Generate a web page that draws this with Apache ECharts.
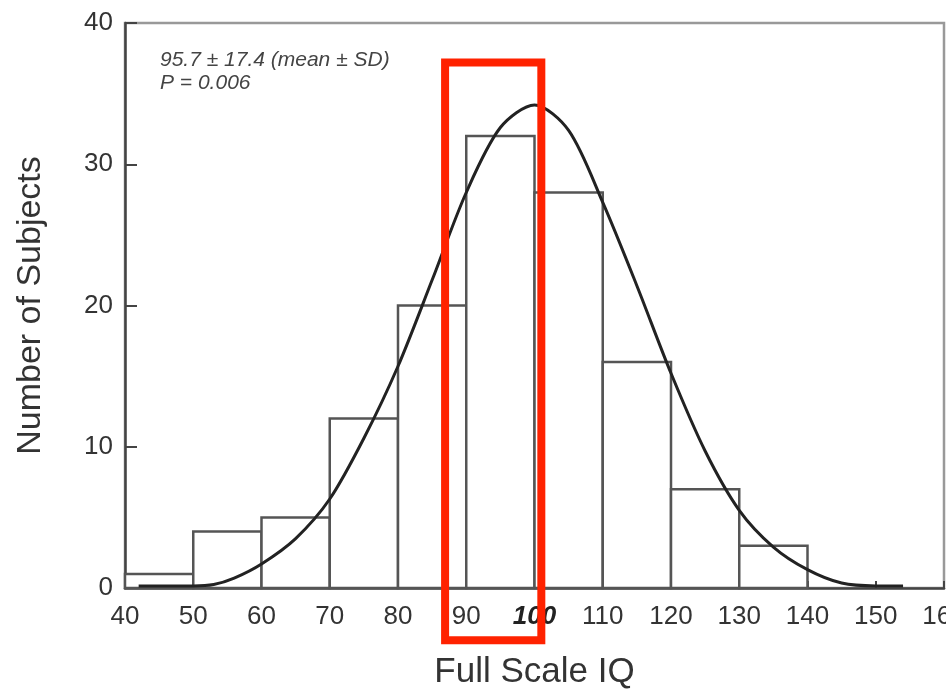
<!DOCTYPE html>
<html>
<head>
<meta charset="utf-8">
<script src="https://cdn.jsdelivr.net/npm/echarts@6/dist/echarts.min.js"></script>
<style>
  html, body { margin: 0; padding: 0; background: #fff; }
  #chart { width: 946px; height: 689px; }
</style>
</head>
<body>
<div id="chart"></div>
<script>
// histogram bins (lower edge) and counts
const binStarts = [40, 50, 60, 70, 80, 90, 100, 110, 120, 130];
const binWidth = 10;
const counts = [1, 4, 5, 12, 20, 32, 28, 16, 7, 3];

// fitted curve
const curveX = [42, 46, 50, 53, 56, 60, 65, 70, 75, 80, 85, 90, 95, 100, 105, 110, 115, 120, 125, 130, 135, 140, 145, 150, 154];
const curveY = [0.15, 0.15, 0.15, 0.25, 0.7, 1.7, 3.5, 6.3, 10.6, 15.7, 21.8, 28.0, 32.6, 34.2, 32.4, 27.3, 21.4, 15.2, 9.7, 5.5, 2.9, 1.3, 0.35, 0.15, 0.15];

const statsText = "95.7 \u00b1 17.4 (mean \u00b1 SD)";
const pText = "P = 0.006";

// highlighted range (red box)
const boxX = [86.9, 101.0];
const boxY = [-3.7, 37.2];

const chart = echarts.init(document.getElementById("chart"));
const font = "Liberation Sans, Arial, sans-serif";

const statsLabel = {
  type: "text", left: 160, top: 49, z: 10,
  style: { text: statsText + "\n" + pText, fontSize: 21, fontStyle: "italic", fill: "#444", fontFamily: font, lineHeight: 23 }
};

chart.setOption({
  animation: false,
  grid: {
    left: 125, right: 2, top: 23, bottom: 101, outerBoundsMode: "none",
    show: true, borderColor: "#999", borderWidth: 2.5, backgroundColor: "transparent"
  },
  xAxis: {
    type: "value", min: 40, max: 160, interval: 10,
    name: "Full Scale IQ", nameLocation: "middle", nameGap: 67,
    nameTextStyle: { fontSize: 35, color: "#333", fontFamily: font },
    axisLine: { lineStyle: { color: "#444", width: 2.5 } },
    axisTick: { inside: true, length: 7, lineStyle: { color: "#444", width: 2 } },
    splitLine: { show: false },
    axisLabel: {
      fontSize: 26, color: "#333", fontFamily: font, margin: 16, hideOverlap: false,
      formatter: (v) => v === 100 ? "{i|100}" : String(v),
      rich: { i: { fontSize: 26, fontStyle: "italic", fontWeight: "bold", color: "#222", fontFamily: font } }
    }
  },
  yAxis: {
    type: "value", min: 0, max: 40, interval: 10,
    name: "Number of Subjects", nameLocation: "middle", nameGap: 77, nameRotate: 90,
    nameTextStyle: { fontSize: 34, color: "#333", fontFamily: font },
    axisLine: { show: true, lineStyle: { color: "#444", width: 2.5 } },
    axisTick: { show: true, inside: true, length: 12, lineStyle: { color: "#444", width: 2 } },
    splitLine: { show: false },
    axisLabel: { fontSize: 26, color: "#333", fontFamily: font, margin: 12 }
  },
  series: [
    {
      type: "custom",
      data: binStarts.map((s, i) => [s, s + binWidth, counts[i]]),
      renderItem: (params, api) => {
        const p0 = api.coord([api.value(0), api.value(2)]);
        const p1 = api.coord([api.value(1), 0]);
        return {
          type: "rect",
          shape: { x: p0[0], y: p0[1], width: p1[0] - p0[0], height: p1[1] - p0[1] },
          style: { fill: "#fff", stroke: "#555", lineWidth: 2.5 }
        };
      },
      z: 2
    },
    {
      type: "line",
      data: curveX.map((x, i) => [x, curveY[i]]),
      smooth: 0.3,
      showSymbol: false,
      lineStyle: { color: "#222", width: 3 },
      z: 3
    }
  ],
  graphic: [statsLabel]
});

const tl = chart.convertToPixel({ gridIndex: 0 }, [boxX[0], boxY[1]]);
const br = chart.convertToPixel({ gridIndex: 0 }, [boxX[1], boxY[0]]);
chart.setOption({
  graphic: [
    statsLabel,
    {
      type: "rect", z: 20,
      shape: { x: tl[0], y: tl[1], width: br[0] - tl[0], height: br[1] - tl[1] },
      style: { fill: "none", stroke: "#ff2200", lineWidth: 8 }
    }
  ]
}, { replaceMerge: ["graphic"] });
</script>
</body>
</html>
